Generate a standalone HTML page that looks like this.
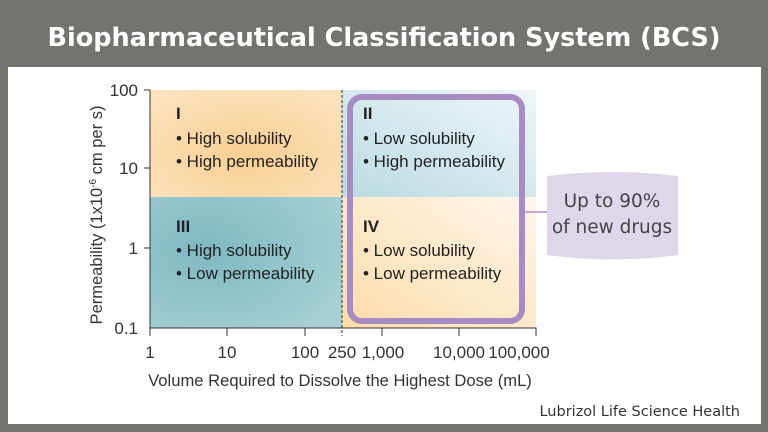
<!DOCTYPE html>
<html><head><meta charset="utf-8"><style>
html,body{margin:0;padding:0;width:768px;height:432px;overflow:hidden;background:#74746f;}
</style></head><body>
<svg width="768" height="432" xmlns="http://www.w3.org/2000/svg" style="position:absolute;left:0;top:0">
<defs>
<radialGradient id="g1" cx="0.5" cy="0.6" r="0.7"><stop offset="0" stop-color="#f8cf92"/><stop offset="1" stop-color="#fbe2bd"/></radialGradient>
<radialGradient id="g3" cx="0.3" cy="0.4" r="0.8"><stop offset="0" stop-color="#7eb8c2"/><stop offset="1" stop-color="#a6d0d4"/></radialGradient>
<linearGradient id="g2" x1="0" y1="1" x2="1" y2="0"><stop offset="0" stop-color="#b9dbe1"/><stop offset="1" stop-color="#eef6f8"/></linearGradient>
<linearGradient id="g4" x1="0" y1="1" x2="1" y2="0"><stop offset="0" stop-color="#fbdcaa"/><stop offset="1" stop-color="#fff6ea"/></linearGradient>
</defs>
<text x="384" y="46" text-anchor="middle" font-family="DejaVu Sans, sans-serif" font-weight="bold" font-size="25.5" fill="#fff">Biopharmaceutical Classification System (BCS)</text>
<rect x="8" y="67" width="753" height="357" fill="#fff"/>
<rect x="150" y="90" width="192" height="107" fill="url(#g1)"/>
<rect x="150" y="197" width="192" height="131" fill="url(#g3)"/>
<rect x="342" y="90" width="194" height="107" fill="url(#g2)"/>
<rect x="342" y="197" width="194" height="131" fill="url(#g4)"/>
<line x1="342" y1="90" x2="342" y2="336" stroke="#333" stroke-width="1" stroke-dasharray="3,2"/>
<rect x="350" y="97" width="172" height="224" rx="12" fill="none" stroke="#a88bc4" stroke-width="6"/>
<line x1="525" y1="212" x2="548" y2="212" stroke="#a88bc4" stroke-width="1.5"/>
<path d="M547,176 Q613,168 678,176 L678,255 Q613,264 547,255 Z" fill="#e0d6ea"/>
<g font-family="DejaVu Sans, sans-serif" font-size="18.5" fill="#444" text-anchor="middle">
<text x="612" y="207">Up to 90%</text><text x="612" y="233">of new drugs</text></g>
<g stroke="#333" stroke-width="1" fill="none">
<path d="M144,90H150V328H536V336"/>
<path d="M144,168H150M144,248H150M150,328V336M227,328V336M305,328V336M382,328V336M459,328V336"/>
</g>
<g font-family="Liberation Sans, sans-serif" font-size="17" fill="#333">
<g text-anchor="end"><text x="138" y="96">100</text><text x="138" y="174">10</text><text x="138" y="254">1</text><text x="138" y="334">0.1</text></g>
<g text-anchor="middle"><text x="150" y="358">1</text><text x="227" y="358">10</text><text x="305" y="358">100</text><text x="342" y="358">250</text><text x="383" y="358">1,000</text><text x="459" y="358">10,000</text><text x="519" y="358">100,000</text>
<text x="340" y="386" font-size="16.6">Volume Required to Dissolve the Highest Dose (mL)</text>
<text transform="translate(102,215) rotate(-90)" font-size="16.5">Permeability (1x10<tspan font-size="10" dy="-6">-6</tspan><tspan dy="6"> cm per s)</tspan></text></g>
<g font-size="17" fill="#222">
<text x="176" y="119" font-weight="bold">I</text><text x="176" y="144">• High solubility</text><text x="176" y="167">• High permeability</text>
<text x="176" y="232" font-weight="bold">III</text><text x="176" y="256">• High solubility</text><text x="176" y="279">• Low permeability</text>
<text x="363" y="119" font-weight="bold">II</text><text x="363" y="144">• Low solubility</text><text x="363" y="167">• High permeability</text>
<text x="363" y="232" font-weight="bold">IV</text><text x="363" y="256">• Low solubility</text><text x="363" y="279">• Low permeability</text>
</g></g>
<text x="740" y="416" text-anchor="end" font-family="DejaVu Sans, sans-serif" font-size="14.5" fill="#333">Lubrizol Life Science Health</text>
</svg>
</body></html>
